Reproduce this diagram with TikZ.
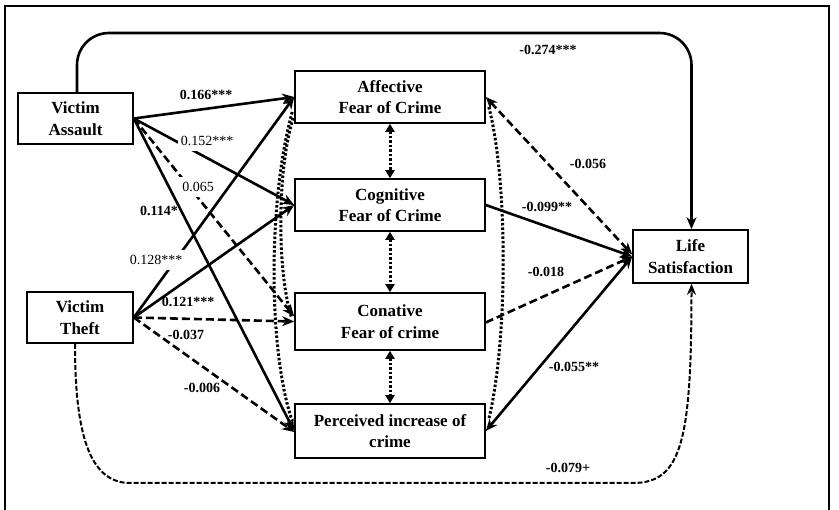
\documentclass[tikz,border=0pt]{standalone}
\usepackage{fontspec}
\setmainfont{Liberation Serif}
\usetikzlibrary{arrows.meta,calc}
\begin{document}
\begin{tikzpicture}[x=1pt,y=-1pt,
 boxnode/.style={draw,line width=1.6pt,align=center,font=\fontsize{17}{21.5}\selectfont\bfseries,inner sep=0pt},
 lab/.style={font=\fontsize{14}{15}\selectfont\bfseries,inner sep=1pt},
 labw/.style={font=\fontsize{14}{15}\selectfont,fill=white,inner xsep=3pt,inner ysep=5pt},
 pth/.style={line width=2.6pt,-{Stealth[length=12pt,width=10pt]}},
 dsh/.style={pth,dash pattern=on 8pt off 4pt},
 dotc/.style={line width=3pt,dash pattern=on 2.5pt off 2pt},
 dotarr/.style={dotc,{Triangle[length=8pt,width=9pt]}-{Triangle[length=8pt,width=9pt]}}]
\useasboundingbox (0,0) rectangle (839,510);
\fill[white] (0,0) rectangle (839,510);
% frame
\draw[line width=1.6pt] (5,515) -- (5,6) -- (829,6) -- (829,515);
% nodes
\node[boxnode,minimum width=115pt,minimum height=51pt] (VA) at (75.5,118.5) {Victim\\Assault};
\node[boxnode,minimum width=106pt,minimum height=51pt] (VT) at (80,317.5) {Victim\\Theft};
\node[boxnode,minimum width=190pt,minimum height=52pt] (Aff) at (390,97) {Affective\\Fear of Crime};
\node[boxnode,minimum width=190pt,minimum height=52pt] (Cog) at (390,205) {Cognitive\\Fear of Crime};
\node[boxnode,minimum width=190pt,minimum height=57pt] (Con) at (390,321.5) {Conative\\Fear of crime};
\node[boxnode,minimum width=190pt,minimum height=54pt] (Per) at (390,431) {Perceived increase of\\crime};
\node[boxnode,minimum width=115pt,minimum height=53pt] (Life) at (690.5,256.5) {Life\\Satisfaction};
% dotted correlations
\draw[dotc] ([shift={(-2,15)}]Aff.west) .. controls (268,200) and (268,350) .. ([shift={(-2,-10)}]Per.west);
\draw[dotc] ([shift={(-1,21)}]Aff.west) .. controls (277,170) and (277,270) .. ([shift={(-3,-5)}]Con.west);
\draw[dotc] ([shift={(3,10)}]Aff.east) .. controls (508,180) and (508,340) .. ([shift={(3,-12)}]Per.east);
\draw[dotarr] (Aff.south) -- (Cog.north);
\draw[dotarr] (Cog.south) -- (Con.north);
\draw[dotarr] (Con.south) -- (Per.north);
% Victim Assault paths
\draw[pth] (VA.east) -- (Aff.west);
\draw[pth] (VA.east) -- (Cog.west);
\draw[dsh] (VA.east) -- ([yshift=5pt]Con.west);
\draw[pth] (VA.east) -- (Per.west);
% Victim Theft paths
\draw[pth] (VT.east) -- (Aff.west);
\draw[pth] (VT.east) -- (Cog.west);
\draw[dsh] (VT.east) -- (Con.west);
\draw[dsh] (VT.east) -- ([yshift=-1pt]Per.west);
% to Life Satisfaction
\draw[dsh,{Stealth[length=12pt,width=10pt]}-{Stealth[length=12pt,width=10pt]}] (Aff.east) -- ([yshift=2pt]Life.west);
\draw[pth] (Cog.east) -- (Life.west);
\draw[dsh] ([yshift=-1pt]Con.east) -- (Life.west);
\draw[pth,{Stealth[length=12pt,width=10pt]}-{Stealth[length=12pt,width=10pt]}] (Per.east) -- (Life.west);
% long paths
\draw[pth,rounded corners=32pt] ([xshift=1.5pt]VA.north) -- (77,33) -- (691.5,33) -- ([xshift=1pt]Life.north);
\draw[line width=2pt,dash pattern=on 5pt off 2pt,-{Stealth[length=11pt,width=9pt,open]}] ([xshift=-5pt]VT.south) .. controls (75,430) and (88,483) .. (130,483) -- (633,483) .. controls (682,483) and (691.5,440) .. ([xshift=1pt]Life.south);
% labels
\node[lab] (l1) at (206,95) {0.166***};
\node[labw] (l2) at (207,141) {0.152***};
\node[labw] (l3) at (198,187) {0.065};
\node[lab] (l4) at (159,211) {0.114*};
\node[labw] (l5) at (156,260) {0.128***};
\node[lab] (l6) at (188,302) {0.121***};
\node[lab] (l7) at (186,335) {-0.037};
\node[lab] (l8) at (202,388) {-0.006};
\node[lab] (l9) at (548,50) {-0.274***};
\node[lab] (l10) at (588,164) {-0.056};
\node[lab] (l11) at (547,207) {-0.099**};
\node[lab] (l12) at (546,272) {-0.018};
\node[lab] (l13) at (574,367) {-0.055**};
\node[lab] (l14) at (568,468) {-0.079+};
\end{tikzpicture}
\end{document}
